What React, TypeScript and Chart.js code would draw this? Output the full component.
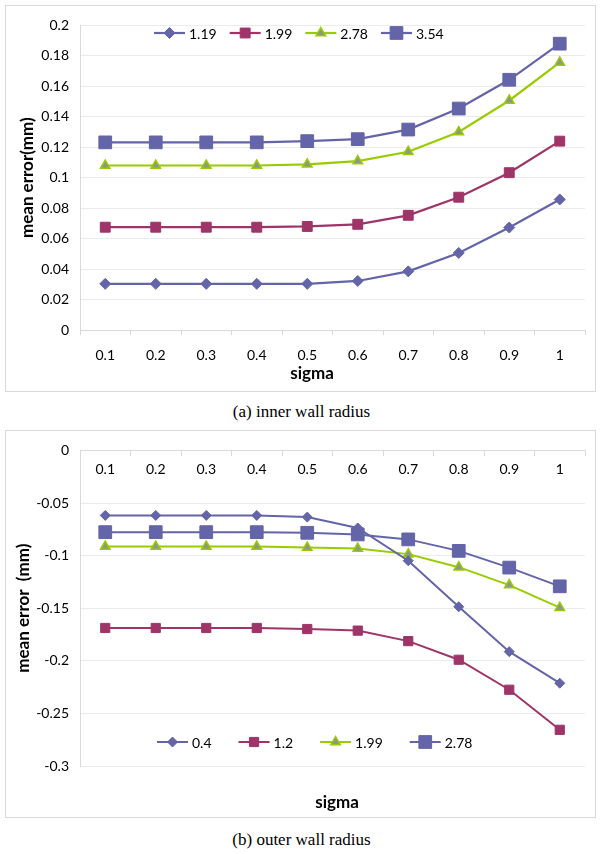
import React, { useEffect, useRef } from 'react';
import { Chart, registerables } from 'chart.js';

Chart.register(...registerables);
Chart.defaults.font.family = 'Lato';

// ---------- data ----------
const sigmaLabels = ['0.1', '0.2', '0.3', '0.4', '0.5', '0.6', '0.7', '0.8', '0.9', '1'];

const innerSeriesNames = ['1.19', '1.99', '2.78', '3.54'];
const inner119 = [0.0303, 0.0303, 0.0303, 0.0303, 0.0303, 0.0322, 0.0385, 0.0506, 0.0673, 0.0857];
const inner199 = [0.0675, 0.0675, 0.0675, 0.0675, 0.068, 0.0694, 0.0753, 0.0872, 0.1033, 0.124];
const inner278 = [0.108, 0.108, 0.108, 0.108, 0.1088, 0.1109, 0.117, 0.13, 0.1507, 0.1757];
const inner354 = [0.1232, 0.1232, 0.1232, 0.1232, 0.124, 0.1253, 0.1316, 0.1454, 0.1643, 0.188];

const outerSeriesNames = ['0.4', '1.2', '1.99', '2.78'];
const outer04 = [-0.0618, -0.0618, -0.0618, -0.0618, -0.0634, -0.0737, -0.1049, -0.1486, -0.1913, -0.2213];
const outer12 = [-0.1688, -0.1688, -0.1688, -0.1688, -0.1698, -0.1713, -0.1813, -0.199, -0.2275, -0.2656];
const outer199 = [-0.0914, -0.0914, -0.0914, -0.0914, -0.0924, -0.0933, -0.0986, -0.111, -0.128, -0.1495];
const outer278 = [-0.0777, -0.0777, -0.0777, -0.0777, -0.0783, -0.0799, -0.0846, -0.0955, -0.1114, -0.1292];

const innerYRange = [0, 0.2];
const outerYRange = [-0.3, 0];
const innerStep = 0.02;
const outerStep = 0.05;

// ---------- styles ----------
const BLUE = '#6464A8';
const RED = '#9E3468';
const GREEN = '#99CC00';
const TRI = '#8E968A';
const GRID = '#ebebeb';
const AXIS = '#d9d9d9';

function fmt(v: any) {
  return String(parseFloat(Number(v).toFixed(4)));
}

function drawMarker(ctx: CanvasRenderingContext2D, style: string, x: number, y: number, r: number, fill: string, stroke: string, bw: number) {
  ctx.beginPath();
  if (style === 'rect') {
    const s = r * Math.SQRT1_2;
    ctx.rect(x - s, y - s, 2 * s, 2 * s);
  } else if (style === 'rectRot') {
    ctx.moveTo(x, y - r);
    ctx.lineTo(x + r, y);
    ctx.lineTo(x, y + r);
    ctx.lineTo(x - r, y);
    ctx.closePath();
  } else if (style === 'triangle') {
    for (let i = 0; i < 3; i++) {
      const a = -Math.PI / 2 + (i * 2 * Math.PI) / 3;
      const px = x + Math.cos(a) * r;
      const py = y + Math.sin(a) * r;
      if (i === 0) ctx.moveTo(px, py);
      else ctx.lineTo(px, py);
    }
    ctx.closePath();
  }
  ctx.fillStyle = fill;
  ctx.fill();
  if (bw) {
    ctx.lineWidth = bw;
    ctx.strokeStyle = stroke;
    ctx.stroke();
  }
}

const inlineLegend = {
  id: 'inlineLegend',
  afterDraw(chart: any, _args: any, opts: any) {
    const ctx: CanvasRenderingContext2D = chart.ctx;
    ctx.save();
    ctx.font = '14px Lato';
    ctx.textBaseline = 'middle';
    ctx.textAlign = 'left';
    let cx = opts.x;
    const y = opts.y;
    const len = opts.lineLen;
    chart.data.datasets.forEach((ds: any) => {
      ctx.strokeStyle = ds.borderColor;
      ctx.lineWidth = ds.borderWidth;
      ctx.beginPath();
      ctx.moveTo(cx, y);
      ctx.lineTo(cx + len, y);
      ctx.stroke();
      drawMarker(ctx, ds.pointStyle, cx + len / 2, y, ds.pointRadius, ds.pointBackgroundColor, ds.pointBorderColor, ds.pointBorderWidth);
      ctx.fillStyle = '#000';
      ctx.fillText(ds.label, cx + len + 4, y + 1);
      cx += len + 4 + ctx.measureText(ds.label).width + opts.gap;
    });
    ctx.restore();
  },
};

const xCaption = {
  id: 'xCaption',
  afterDraw(chart: any, _args: any, opts: any) {
    const ctx: CanvasRenderingContext2D = chart.ctx;
    ctx.save();
    ctx.font = 'bold 17px Lato';
    ctx.fillStyle = '#000';
    ctx.textAlign = 'center';
    ctx.textBaseline = 'middle';
    ctx.fillText(opts.text, opts.x, opts.y);
    ctx.restore();
  },
};

function makeDatasets(names: string[], values: number[][], sizes: number[], lw: number) {
  const colors = [BLUE, RED, GREEN, BLUE];
  const styles = ['rectRot', 'rect', 'triangle', 'rect'];
  const fills = [BLUE, RED, TRI, BLUE];
  const borders = [BLUE, RED, GREEN, BLUE];
  return names.map((n, i) => ({
    label: n,
    data: values[i],
    borderColor: colors[i],
    backgroundColor: colors[i],
    borderWidth: lw,
    tension: 0,
    pointStyle: styles[i],
    pointRadius: sizes[i],
    pointBackgroundColor: fills[i],
    pointBorderColor: borders[i],
    pointBorderWidth: i === 2 ? 1.5 : 1,
  }));
}

function tickFont() {
  return { size: 14, family: 'Lato' };
}

function innerConfig(): any {
  return {
    type: 'line',
    data: {
      labels: sigmaLabels,
      datasets: makeDatasets(innerSeriesNames, [inner119, inner199, inner278, inner354], [5.5, 7, 5.5, 9], 2.2),
    },
    plugins: [inlineLegend, xCaption],
    options: {
      responsive: false,
      animation: false,
      maintainAspectRatio: false,
      layout: { padding: { top: 9, right: 2, left: 0, bottom: 0 } },
      plugins: {
        legend: { display: false },
        tooltip: { enabled: false },
        inlineLegend: { x: 148, y: 27, gap: 13, lineLen: 31 },
        xCaption: { text: 'sigma', x: 306, y: 368 },
      },
      scales: {
        x: {
          offset: true,
          grid: { offset: true, drawOnChartArea: false, drawTicks: true, tickLength: 5, color: AXIS },
          border: { display: true, color: AXIS },
          ticks: { font: tickFont(), color: '#000', padding: 12, maxRotation: 0, autoSkip: false },
          afterFit: (s: any) => { s.height = 61; },
        },
        y: {
          min: innerYRange[0],
          max: innerYRange[1],
          ticks: { stepSize: innerStep, callback: fmt, font: tickFont(), color: '#000', padding: 11 },
          grid: { color: GRID, drawTicks: false },
          border: { display: true, color: AXIS },
          title: { display: true, text: 'mean error(mm)', font: { size: 17, weight: 'bold', family: 'Lato' }, color: '#000', padding: { top: 11, bottom: 0 } },
          afterFit: (s: any) => { s.width = 74; },
        },
      },
    },
  };
}

function outerConfig(): any {
  return {
    type: 'line',
    data: {
      labels: sigmaLabels,
      datasets: makeDatasets(outerSeriesNames, [outer04, outer12, outer199, outer278], [5, 6.5, 5.5, 9], 2),
    },
    plugins: [inlineLegend, xCaption],
    options: {
      responsive: false,
      animation: false,
      maintainAspectRatio: false,
      layout: { padding: { top: 12, right: 2, left: 0, bottom: 51 } },
      plugins: {
        legend: { display: false },
        tooltip: { enabled: false },
        inlineLegend: { x: 151, y: 311, gap: 27, lineLen: 31 },
        xCaption: { text: 'sigma', x: 331, y: 372 },
      },
      scales: {
        x: {
          position: { y: 0 },
          offset: true,
          grid: { offset: true, drawOnChartArea: false, drawTicks: true, tickLength: 5, color: AXIS },
          border: { display: true, color: AXIS },
          ticks: { font: tickFont(), color: '#000', padding: 6, maxRotation: 0, autoSkip: false },
        },
        y: {
          min: outerYRange[0],
          max: outerYRange[1],
          ticks: { stepSize: outerStep, callback: fmt, font: tickFont(), color: '#000', padding: 11 },
          grid: { color: GRID, drawTicks: false },
          border: { display: true, color: AXIS },
          title: { display: true, text: 'mean error  (mm)', font: { size: 17, weight: 'bold', family: 'Lato' }, color: '#000', padding: { top: 7, bottom: 0 } },
          afterFit: (s: any) => { s.width = 74; },
        },
      },
    },
  };
}

function ChartBox({ top, height, config }: { top: number; height: number; config: () => any }) {
  const ref = useRef<HTMLCanvasElement | null>(null);
  useEffect(() => {
    if (!ref.current) return;
    const chart = new Chart(ref.current, config());
    return () => chart.destroy();
  }, []);
  return (
    <div
      style={{
        position: 'absolute',
        left: 5,
        top,
        width: 591,
        height,
        boxSizing: 'border-box',
        border: '1px solid #d9d9d9',
        background: '#fff',
      }}
    >
      <canvas ref={ref} width={589} height={height - 2} style={{ display: 'block', width: 589, height: height - 2 }} />
    </div>
  );
}

const captionStyle: React.CSSProperties = {
  position: 'absolute',
  left: 1,
  width: 601,
  textAlign: 'center',
  fontFamily: '"Liberation Serif", "Times New Roman", serif',
  fontSize: 17,
  lineHeight: '20px',
  color: '#000',
};

export default function App() {
  return (
    <div style={{ position: 'absolute', left: 0, top: 0, width: 601, height: 854, background: '#fff', overflow: 'hidden' }}>
      <ChartBox top={5} height={387} config={innerConfig} />
      <div style={{ ...captionStyle, top: 402 }}>(a) inner wall radius</div>
      <ChartBox top={430} height={388} config={outerConfig} />
      <div style={{ ...captionStyle, top: 830 }}>(b) outer wall radius</div>
    </div>
  );
}
